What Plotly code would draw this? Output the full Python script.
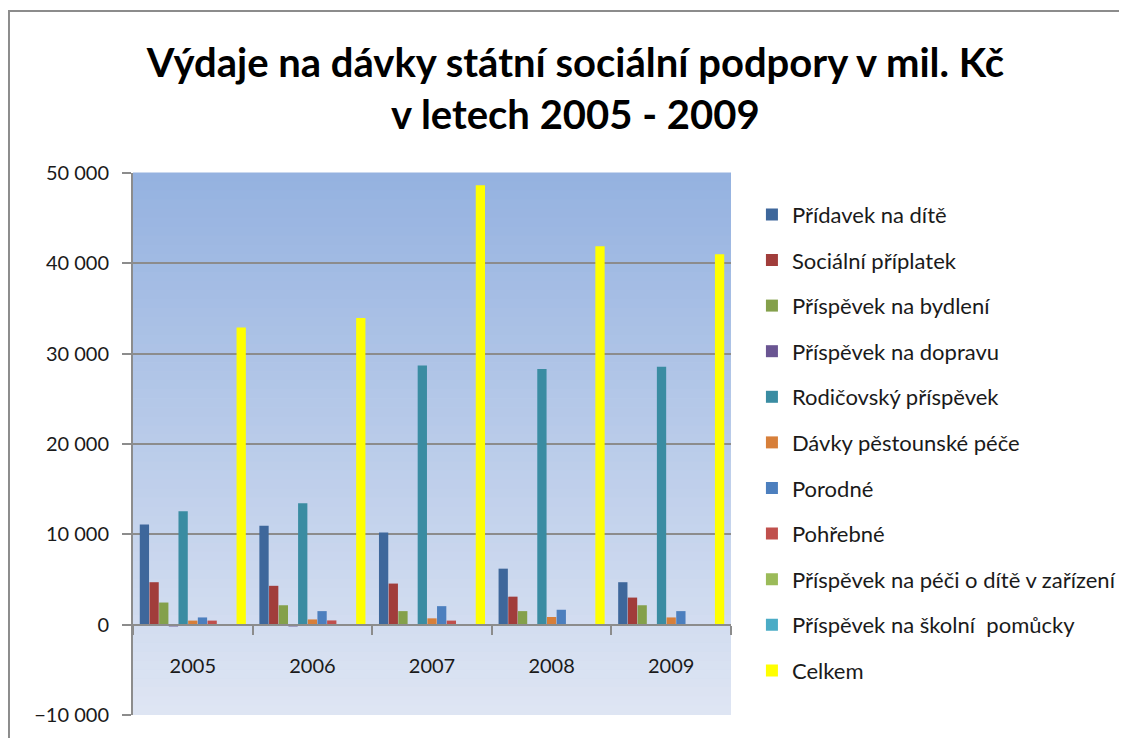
# Výdaje na dávky státní sociální podpory 2005 - 2009, grouped bar chart
import plotly.graph_objs as go

years = ["2005", "2006", "2007", "2008", "2009"]

series_names = [
    "Přídavek na dítě",
    "Sociální příplatek",
    "Příspěvek na bydlení",
    "Příspěvek na dopravu",
    "Rodičovský příspěvek",
    "Dávky pěstounské péče",
    "Porodné",
    "Pohřebné",
    "Příspěvek na péči o dítě v zařízení",
    "Příspěvek na školní  pomůcky",
    "Celkem",
]

pridavek = [11100, 10950, 10200, 6200, 4700]
socialni = [4700, 4300, 4550, 3100, 3000]
bydleni = [2450, 2150, 1500, 1500, 2150]
doprava = [-200, -200, None, None, None]
rodicovsky = [12550, 13450, 28700, 28300, 28550]
pestounske = [450, 580, 700, 850, 800]
porodne = [800, 1500, 2050, 1650, 1500]
pohrebne = [450, 470, 450, None, None]
pece_zarizeni = [None, None, None, None, None]
skolni_pomucky = [None, None, None, None, None]
celkem = [32900, 33950, 48650, 41900, 41000]

values = [pridavek, socialni, bydleni, doprava, rodicovsky, pestounske,
          porodne, pohrebne, pece_zarizeni, skolni_pomucky, celkem]

colors = ["#3E679B", "#A13D3B", "#84A04B", "#6A5592", "#3A8CA2", "#D77F3A",
          "#4C7FBE", "#C0504D", "#9BBB59", "#4BACC6", "#FFFF00"]

fig = go.Figure()
for i, (name, vals) in enumerate(zip(series_names, values)):
    fig.add_trace(go.Bar(
        x=years, y=vals, name=name, legendgroup=str(i),
        marker=dict(color=colors[i], line=dict(width=0)),
        hoverinfo="name+y",
    ))

# plot area gradient (top darker blue -> bottom pale)
shapes = []
n = 60
top = (0x95, 0xB2, 0xE0)
bot = (0xDE, 0xE5, 0xF3)
for k in range(n):
    t = k / (n - 1)
    c = tuple(round(top[j] + (bot[j] - top[j]) * t) for j in range(3))
    shapes.append(dict(
        type="rect", xref="x domain", yref="y domain",
        x0=0, x1=1, y0=1 - (k + 1) / n, y1=1 - k / n + 0.001,
        fillcolor="rgb(%d,%d,%d)" % c, line=dict(width=0), layer="below",
    ))
# outer chart frame
shapes.append(dict(
    type="rect", xref="paper", yref="paper",
    x0=-0.2074, x1=1.7, y0=-0.06, y1=1.2989,
    line=dict(color="#8C8C8C", width=2), layer="above",
))

font = "Lato, 'Open Sans', sans-serif"

# page body has an 8px margin, so the figure is a bit smaller than the window
fig.update_layout(
    width=1119, height=730,
    margin=dict(l=125, r=396, t=165, b=23, autoexpand=False),
    paper_bgcolor="white",
    plot_bgcolor="#C0D0EC",
    separators=", ",
    font=dict(family=font, color="#1A1A1A", size=20),
    title=dict(
        text="<b>Výdaje na dávky státní sociální podpory v mil. Kč<br>v letech 2005 - 2009</b>",
        x=0.507, xanchor="center", y=0.905, yanchor="top",
        font=dict(family=font, size=40, color="black"),
    ),
    barmode="group",
    bargap=0.11,
    bargroupgap=0.04,
    shapes=shapes,
    showlegend=True,
    legend=dict(
        x=1.035, xanchor="left", y=0.962, yanchor="top",
        font=dict(size=22, color="#1A1A1A"),
        tracegroupgap=14, traceorder="grouped",
        bgcolor="rgba(0,0,0,0)",
    ),
    xaxis=dict(
        type="category",
        anchor="free", position=1 / 6,
        showline=True, linecolor="#8C8C8C", linewidth=2,
        ticks="outside", tickson="boundaries", ticklen=9,
        tickcolor="#8C8C8C", tickwidth=2,
        ticklabelstandoff=23,
        showgrid=False,
        tickfont=dict(size=20),
    ),
    yaxis=dict(
        range=[-10000, 50000], dtick=10000, tickformat=",d",
        showline=True, linecolor="#8C8C8C", linewidth=2,
        showgrid=True, gridcolor="#8C8C8C", gridwidth=2,
        zeroline=False,
        ticks="outside", ticklen=9, tickcolor="#8C8C8C", tickwidth=2,
        ticklabelstandoff=9,
        tickfont=dict(size=20),
    ),
)

fig.write_html("out.html")
